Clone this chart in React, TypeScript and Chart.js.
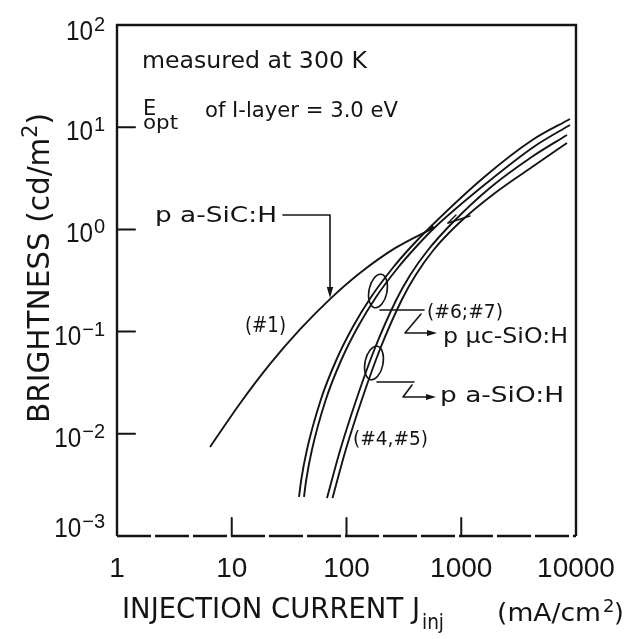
import { useEffect, useRef } from 'react';
import { Chart, registerables } from 'chart.js';

Chart.register(...registerables);

// ---- axes ----
const X_TICKS = [1, 10, 100, 1000, 10000];
const X_TICK_LABELS = ['1', '10', '100', '1000', '10000'];
const Y_TICKS = [1e-3, 1e-2, 1e-1, 1, 10, 100];
const Y_TICK_EXP = ['\u22123', '\u22122', '\u22121', '0', '1', '2'];

// ---- series (injection current mA/cm2, brightness cd/m2) ----
// #1  p a-SiC:H
const SIC_X = [6.47, 11.8, 21.5, 39.3, 71.8, 131, 265, 567];
const SIC_Y = [0.00743, 0.0198, 0.048, 0.105, 0.208, 0.374, 0.655, 1.03];
// #6 / #7  p uc-SiO:H
const MC6_X = [38.56, 40.3, 45.17, 59.61, 81.5, 113.4, 163.8, 256.8, 364, 537.4, 1588, 4161, 8867];
const MC6_Y = [0.002408, 0.003531, 0.006942, 0.02142, 0.05274, 0.1109, 0.2182, 0.4286, 0.6727, 1.056, 3.256, 7.494, 12.03];
const MC7_X = [42.62, 44.55, 49.94, 65.87, 90.09, 125.5, 181.1, 283.9, 402.5, 594, 1711, 4392, 8867];
const MC7_Y = [0.002408, 0.003531, 0.006942, 0.02142, 0.05274, 0.1109, 0.2182, 0.4286, 0.6727, 1.056, 2.91, 6.546, 10.51];
// #4 / #5  p a-SiO:H
const AO4_X = [67.62, 88.13, 121.5, 174.3, 271.1, 359, 513.2, 850.8, 1774, 4111, 8348];
const AO4_Y = [0.002354, 0.006942, 0.02142, 0.06607, 0.2038, 0.358, 0.6286, 1.181, 2.542, 5.109, 8.388];
const AO5_X = [75.51, 98.4, 135.7, 194.7, 302.7, 400.9, 573.1, 955.9, 1968, 4392, 8348];
const AO5_Y = [0.002354, 0.006942, 0.02142, 0.06607, 0.2038, 0.358, 0.6286, 1.155, 2.271, 4.267, 7.004];

const SERIES = [
  { label: 'p a-SiC:H (#1)', x: SIC_X, y: SIC_Y },
  { label: 'p \u00b5c-SiO:H (#6)', x: MC6_X, y: MC6_Y },
  { label: 'p \u00b5c-SiO:H (#7)', x: MC7_X, y: MC7_Y },
  { label: 'p a-SiO:H (#4)', x: AO4_X, y: AO4_Y },
  { label: 'p a-SiO:H (#5)', x: AO5_X, y: AO5_Y },
];

const INK = '#141414';
const FONT = '"DejaVu Sans", "Liberation Sans", sans-serif';
const NUM = '"Liberation Sans", "DejaVu Sans", sans-serif';

function txt(ctx: CanvasRenderingContext2D, s: string, x: number, y: number, size: number, family: string, width?: number, align: 'left' | 'center' | 'right' = 'left') {
  ctx.save();
  ctx.font = `${size}px ${family}`;
  ctx.textAlign = 'left';
  ctx.textBaseline = 'alphabetic';
  const w = ctx.measureText(s).width;
  const sx = width ? width / w : 1;
  const real = w * sx;
  let x0 = x;
  if (align === 'center') x0 = x - real / 2;
  else if (align === 'right') x0 = x - real;
  ctx.translate(x0, y);
  ctx.scale(sx, 1);
  ctx.fillStyle = INK;
  ctx.fillText(s, 0, 0);
  ctx.restore();
  return real;
}

function poly(ctx: CanvasRenderingContext2D, pts: number[][], lw = 1.6) {
  ctx.save();
  ctx.strokeStyle = INK;
  ctx.lineWidth = lw;
  ctx.lineJoin = 'round';
  ctx.lineCap = 'round';
  ctx.beginPath();
  pts.forEach((p, i) => (i ? ctx.lineTo(p[0], p[1]) : ctx.moveTo(p[0], p[1])));
  ctx.stroke();
  ctx.restore();
}

function arrowHead(ctx: CanvasRenderingContext2D, x: number, y: number, ang: number, len = 10, half = 3.2) {
  ctx.save();
  ctx.fillStyle = INK;
  ctx.translate(x, y);
  ctx.rotate(ang);
  ctx.beginPath();
  ctx.moveTo(0, 0);
  ctx.lineTo(-len, -half);
  ctx.lineTo(-len, half);
  ctx.closePath();
  ctx.fill();
  ctx.restore();
}

const paperPlugin = {
  id: 'paper',
  beforeDraw(chart: any) {
    const ctx = chart.ctx as CanvasRenderingContext2D;
    ctx.save();
    ctx.fillStyle = '#ffffff';
    ctx.fillRect(0, 0, chart.width, chart.height);
    ctx.restore();
  },
  afterDraw(chart: any) {
    const ctx = chart.ctx as CanvasRenderingContext2D;
    const { left, right, top, bottom } = chart.chartArea;
    const xs = chart.scales.x;
    const ys = chart.scales.y;

    // frame
    ctx.save();
    ctx.strokeStyle = INK;
    ctx.lineWidth = 2.4;
    ctx.beginPath();
    ctx.moveTo(left, bottom);
    ctx.lineTo(left, top);
    ctx.lineTo(right, top);
    ctx.lineTo(right, bottom);
    ctx.stroke();
    ctx.setLineDash([34, 4]);
    ctx.beginPath();
    ctx.moveTo(left, bottom);
    ctx.lineTo(right, bottom);
    ctx.stroke();
    ctx.restore();

    // inward ticks
    Y_TICKS.forEach((v) => {
      if (v <= ys.min || v >= ys.max) return;
      const y = ys.getPixelForValue(v);
      poly(ctx, [[left, y], [left + 18, y]], 2);
    });
    X_TICKS.forEach((v) => {
      if (v <= xs.min || v >= xs.max) return;
      const x = xs.getPixelForValue(v);
      poly(ctx, [[x, bottom], [x, bottom - 18]], 2);
    });

    // y tick labels 10^n
    Y_TICKS.forEach((v, i) => {
      const y = ys.getPixelForValue(v);
      const c = Math.min(Math.max(y + 3, top + 5), bottom - 9);
      const base = c + 10;
      ctx.save();
      ctx.font = `20px ${NUM}`;
      const ew = ctx.measureText(Y_TICK_EXP[i]).width;
      ctx.restore();
      const xr = 105;
      txt(ctx, Y_TICK_EXP[i], xr - ew, base - 9, 20, NUM);
      txt(ctx, '10', xr - ew - 1, base, 27, NUM, 27, 'right');
    });

    // x tick labels
    X_TICKS.forEach((v, i) => {
      const x = xs.getPixelForValue(v);
      txt(ctx, X_TICK_LABELS[i], x, 577, 28, NUM, undefined, 'center');
    });

    // x title
    const jw = txt(ctx, 'INJECTION CURRENT J', 122, 618, 27.5, FONT, 298);
    txt(ctx, 'inj', 122 + jw + 2, 629, 21, FONT, 22);
    txt(ctx, '(mA/cm', 497, 621, 25, FONT, 104);
    txt(ctx, '2', 603, 612, 18, FONT);
    txt(ctx, ')', 614, 621, 25, FONT);

    // y title (rotated)
    ctx.save();
    ctx.translate(49, 268);
    ctx.rotate(-Math.PI / 2);
    ctx.font = `30px ${FONT}`;
    const m1 = ctx.measureText('BRIGHTNESS (cd/m').width;
    ctx.font = `21px ${FONT}`;
    const m2 = ctx.measureText('2').width;
    ctx.font = `30px ${FONT}`;
    const m3 = ctx.measureText(')').width;
    const total = m1 + m2 + m3;
    const sx = 310 / total;
    ctx.scale(sx, 1);
    ctx.fillStyle = INK;
    ctx.textBaseline = 'alphabetic';
    let cx = -total / 2;
    ctx.font = `30px ${FONT}`;
    ctx.fillText('BRIGHTNESS (cd/m', cx, 0);
    cx += m1;
    ctx.font = `21px ${FONT}`;
    ctx.fillText('2', cx, -12);
    cx += m2;
    ctx.font = `30px ${FONT}`;
    ctx.fillText(')', cx, 0);
    ctx.restore();

    // header notes
    txt(ctx, 'measured at 300 K', 142, 68, 23.5, FONT, 225);
    txt(ctx, 'E', 143, 115, 21, FONT);
    txt(ctx, 'opt', 143, 129, 20, FONT, 35);
    txt(ctx, 'of I-layer = 3.0 eV', 205, 117, 21, FONT, 193);

    // p a-SiC:H leader
    txt(ctx, 'p a-SiC:H', 155, 222, 21, FONT, 122);
    poly(ctx, [[283, 215], [330, 215], [330, 288]]);
    arrowHead(ctx, 330, 298, Math.PI / 2, 11, 3.2);
    txt(ctx, '(#1)', 245, 332, 21, FONT, 41);

    // ellipses
    ctx.save();
    ctx.strokeStyle = INK;
    ctx.lineWidth = 1.6;
    ctx.beginPath();
    ctx.ellipse(378, 291, 9, 17, 0.2, 0, Math.PI * 2);
    ctx.stroke();
    ctx.beginPath();
    ctx.ellipse(374, 363, 9, 17, 0.2, 0, Math.PI * 2);
    ctx.stroke();
    ctx.restore();

    // upper leader (#6;#7)
    poly(ctx, [[380, 310], [424, 310]]);
    poly(ctx, [[421, 314], [405, 333], [428, 333]]);
    arrowHead(ctx, 437, 333, 0, 10, 3);
    txt(ctx, '(#6;#7)', 427, 318, 20, FONT, 76);
    txt(ctx, 'p \u00b5c-SiO:H', 443, 343, 21, FONT, 125);

    // lower leader
    poly(ctx, [[377, 382], [414, 382]]);
    poly(ctx, [[412, 385], [403, 397], [426, 397]]);
    arrowHead(ctx, 436, 397, 0, 10, 3);
    txt(ctx, 'p a-SiO:H', 440, 402, 21, FONT, 124);
    txt(ctx, '(#4,#5)', 353, 445, 20, FONT, 75);

    // junction marks
    ctx.save();
    ctx.fillStyle = INK;
    ctx.beginPath();
    ctx.arc(432, 228, 2.2, 0, Math.PI * 2);
    ctx.fill();
    ctx.restore();
    poly(ctx, [[448, 223], [470, 216]], 1.4);
    poly(ctx, [[448, 223], [456, 215]], 1.4);
  },
};

export default function App() {
  const ref = useRef<HTMLCanvasElement>(null);
  useEffect(() => {
    document.body.style.margin = '0';
    document.body.style.overflow = 'hidden';
    const canvas = ref.current!;
    const chart = new Chart(canvas, {
      type: 'line',
      data: {
        datasets: SERIES.map((s) => ({
          label: s.label,
          data: s.x.map((x, i) => ({ x, y: s.y[i] })),
          borderColor: INK,
          borderWidth: 1.9,
          pointRadius: 0,
          fill: false,
          cubicInterpolationMode: 'monotone' as const,
        })),
      },
      options: {
        responsive: false,
        animation: false,
        devicePixelRatio: 1,
        layout: { padding: { left: 117, top: 25, right: 55, bottom: 103 } },
        plugins: { legend: { display: false }, tooltip: { enabled: false } },
        scales: {
          x: { type: 'logarithmic', min: 1, max: 10000, display: false },
          y: { type: 'logarithmic', min: 1e-3, max: 100, display: false },
        },
      },
      plugins: [paperPlugin],
    });
    return () => chart.destroy();
  }, []);
  return <canvas ref={ref} width={631} height={639} style={{ display: 'block' }} />;
}
